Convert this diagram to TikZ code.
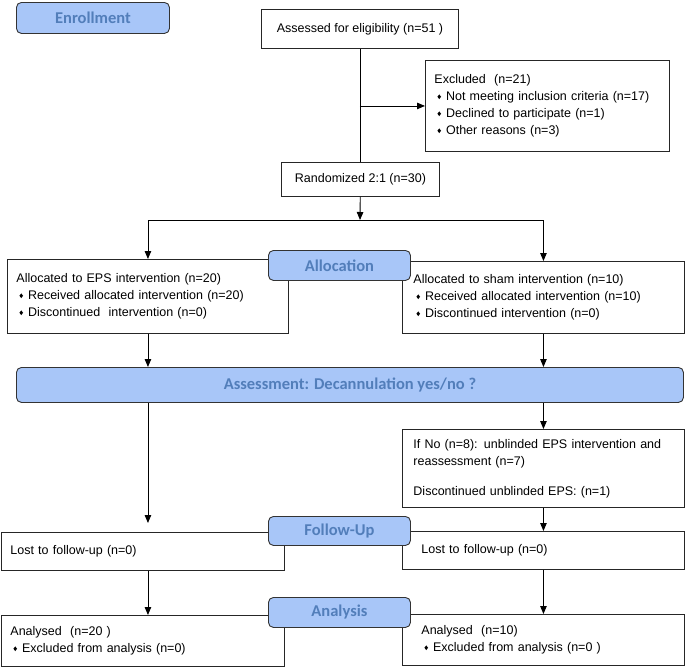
\documentclass[tikz,border=0pt]{standalone}
\usepackage{fontspec}
\usepackage{graphicx}
\setsansfont{Liberation Sans}
\newfontfamily\stagefont{Carlito}
\usetikzlibrary{arrows.meta}

\definecolor{stagefill}{RGB}{168,198,248}
\definecolor{stagetext}{RGB}{82,126,186}
\newcommand{\bul}{\hspace{3pt}\raisebox{1.6pt}{\scalebox{0.85}[1.1]{\rotatebox{45}{\rule{3pt}{3pt}}}}\hspace{5pt}}

\begin{document}
\begin{tikzpicture}[x=1pt,y=-1pt,
  box/.style={draw=black!85,fill=white,line width=0.9pt,anchor=north west,align=left,
    inner ysep=0pt,font=\sffamily\fontsize{12.5}{17}\selectfont},
  stage/.style={draw=black!80,fill=stagefill,line width=0.9pt,rounded corners=5pt,
    anchor=north west,inner sep=0pt,text=stagetext,
    font=\stagefont\bfseries\fontsize{16.5}{18}\selectfont},
  arr/.style={-{Triangle[length=8pt,width=6.5pt]},line width=0.9pt}]

\useasboundingbox (0,0) rectangle (685,667);

% enrollment
\node[box,minimum width=197pt,minimum height=39pt,inner xsep=0pt] (assess) at (261,9) {Assessed for eligibility (n=51 )};
\node[box,text width=226pt,inner xsep=9pt,minimum height=91pt] (excl) at (425,60)
  {Excluded\ \ (n=21)\\ \bul Not meeting inclusion criteria (n=17)\\ \bul Declined to participate (n=1)\\ \bul Other reasons (n=3)};
\node[box,minimum width=158pt,minimum height=34pt,inner xsep=0pt] (rand) at (281,162) {Randomized 2:1 (n=30)};
\node[stage,minimum width=153pt,minimum height=31pt] (enrol) at (16,2) {Enrollment};

\draw[line width=0.9pt] (assess) -- (assess.south |- rand.north);
\draw[arr] (assess.south |- excl.west) -- (excl.west);

% allocation
\node[box,text width=263pt,inner xsep=9pt,minimum height=74pt] (allocL) at (7,259)
  {Allocated to EPS intervention (n=20)\\ \bul Received allocated intervention (n=20)\\ \bul Discontinued\ \ intervention (n=0)};
\node[box,text width=260pt,inner xsep=11pt,minimum height=72pt] (allocR) at (402,261)
  {Allocated to sham intervention (n=10)\\ \bul Received allocated intervention (n=10)\\ \bul Discontinued intervention (n=0)};
\node[stage,minimum width=142pt,minimum height=30pt] (allocS) at (268,250) {Allocation};

\coordinate (split) at (360,220);
\draw[arr] (rand) -- (split);
\draw[line width=0.9pt] (split -| allocL.north) -- (split -| allocR.north);
\draw[arr] (split -| allocL.north) -- (allocL);
\draw[arr] (split -| allocR.north) -- (allocR);

% assessment
\node[stage,minimum width=667pt,minimum height=35pt] (decan) at (16,367) {Assessment: Decannulation yes/no ?};
\draw[arr] (allocL) -- (allocL.south |- decan.north);
\draw[arr] (allocR) -- (allocR.south |- decan.north);

\node[box,text width=260pt,inner xsep=11pt,minimum height=78pt] (ifno) at (402,429)
  {If No (n=8): unblinded EPS intervention and\\ reassessment (n=7)\\[13pt] Discontinued unblinded EPS: (n=1)};
\draw[arr] (decan.south -| ifno.north) -- (ifno);

% follow-up
\node[box,text width=265pt,inner xsep=9pt,minimum height=38pt] (followL) at (1,532) {Lost to follow-up (n=0)};
\node[box,text width=244pt,inner xsep=19pt,minimum height=38pt] (followR) at (402,531) {Lost to follow-up (n=0)};
\node[stage,minimum width=142pt,minimum height=29pt] (followS) at (268,516) {Follow-Up};

\draw[arr,shorten >=9pt] (decan.south -| allocL.south) -- (followL.north -| allocL.south);
\draw[arr] (ifno) -- (followR);

% analysis
\node[box,text width=265pt,inner xsep=9pt,minimum height=51pt] (anaL) at (1,615)
  {Analysed\ \ (n=20 )\\ \bul Excluded from analysis (n=0)};
\node[box,text width=244pt,inner xsep=19pt,minimum height=51pt] (anaR) at (402,614)
  {Analysed\ \ (n=10)\\ \bul Excluded from analysis (n=0 )};
\node[stage,minimum width=142pt,minimum height=30pt] (anaS) at (268,597) {Analysis};

\draw[arr] (followL.south -| allocL.south) -- (anaL.north -| allocL.south);
\draw[arr] (followR) -- (anaR);
\end{tikzpicture}
\end{document}
